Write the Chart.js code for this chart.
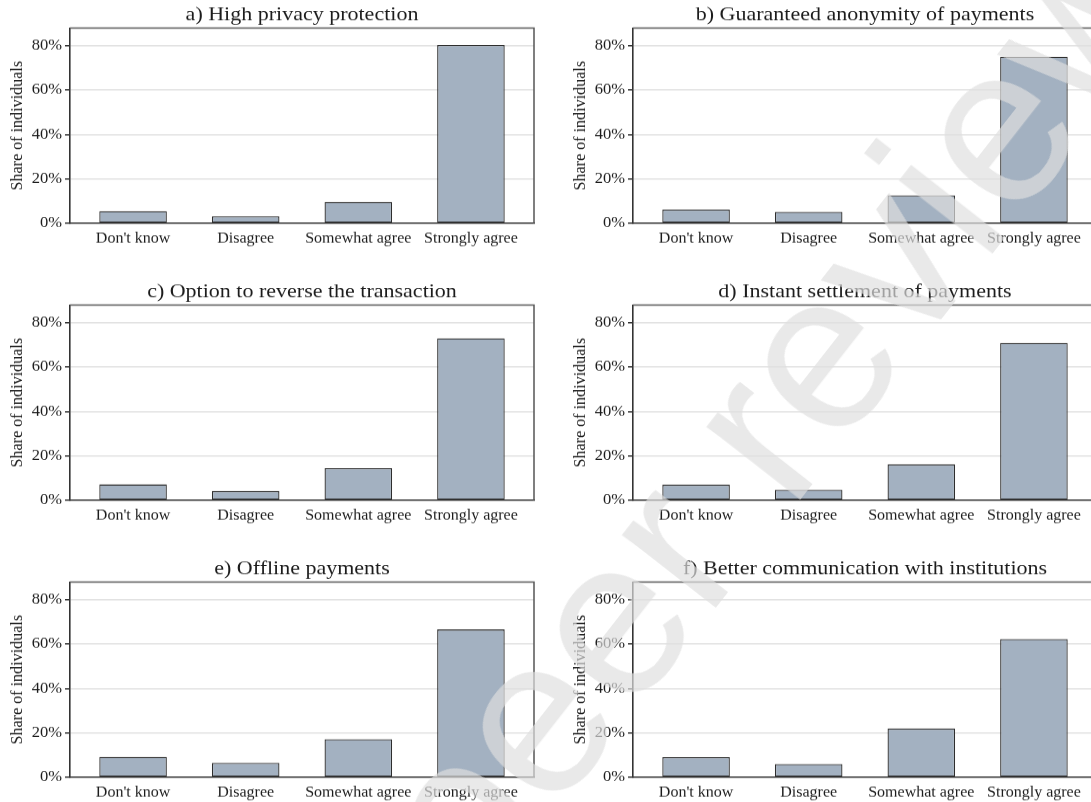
<!DOCTYPE html>
<html>
<head>
<meta charset="utf-8">
<script src="https://cdn.jsdelivr.net/npm/chart.js@4.4.1/dist/chart.umd.min.js"></script>
<style>
    html, body {
        margin: 0;
        padding: 0;
        background: #ffffff;
        width: 1091px;
        height: 802px;
        overflow: hidden;
        position: relative;
    }
    .panel {
        position: absolute;
        width: 545px;
        height: 250px;
    }
    .panel canvas {
        width: 545px !important;
        height: 250px !important;
    }
    .stamp {
        position: absolute;
        left: 772px;
        top: 410px;
        transform: translate(-50%, -50%) rotate(-52deg);
        font-family: "Liberation Sans", Arial, sans-serif;
        font-size: 225px;
        line-height: 1;
        white-space: nowrap;
        color: rgba(222, 222, 222, 0.68);
        pointer-events: none;
    }
</style>
</head>
<body>

<div class="panel" style="left:0px;top:0px"><canvas id="chartA"></canvas></div>
<div class="panel" style="left:563px;top:0px"><canvas id="chartB"></canvas></div>
<div class="panel" style="left:0px;top:277px"><canvas id="chartC"></canvas></div>
<div class="panel" style="left:563px;top:277px"><canvas id="chartD"></canvas></div>
<div class="panel" style="left:0px;top:554px"><canvas id="chartE"></canvas></div>
<div class="panel" style="left:563px;top:554px"><canvas id="chartF"></canvas></div>

<div class="stamp">peer review</div>

<script>
    /* ================= DATA ================= */

    const categories = ["Don't know", "Disagree", "Somewhat agree", "Strongly agree"];
    const yTicks = [0, 20, 40, 60, 80];
    const yMax = 88;

    const privacyShare = [5.5, 3.2, 9.6, 80.3];
    const anonymityShare = [6.2, 5.2, 12.6, 75.0];
    const reverseShare = [7.2, 4.2, 14.5, 73.0];
    const instantShare = [7.1, 4.8, 16.2, 70.9];
    const offlineShare = [9.2, 6.5, 17.2, 66.6];
    const communicationShare = [9.1, 6.0, 22.0, 62.3];

    const panelTitles = [
        "a) High privacy protection",
        "b) Guaranteed anonymity of payments",
        "c) Option to reverse the transaction",
        "d) Instant settlement of payments",
        "e) Offline payments",
        "f) Better communication with institutions",
    ];

    /* ================= STYLE ================= */

    const SERIF = '"Liberation Serif", "Times New Roman", Times, serif';
    const BAR_FILL = "#a3b1c1";
    const BAR_EDGE = "#2e2e2e";
    const AXIS_COLOR = "#333333";
    const FRAME_COLOR = "#555555";
    const GRID_COLOR = "#e2e2e2";
    const TEXT_COLOR = "#1c1c1c";

    // box around the plot area (top + right sides are not drawn by the axes)
    const frameBox = {
        id: "frameBox",
        afterDraw(chart) {
            const { ctx, chartArea: a } = chart;
            ctx.save();
            ctx.strokeStyle = FRAME_COLOR;
            ctx.lineWidth = 1.5;
            ctx.beginPath();
            ctx.moveTo(a.left, a.top);
            ctx.lineTo(a.right, a.top);
            ctx.lineTo(a.right, a.bottom);
            ctx.stroke();
            ctx.restore();
        }
    };

    function buildPanel(canvasId, title, values) {
        const points = categories.map((c, i) => ({ x: i, y: values[i] }));

        return new Chart(document.getElementById(canvasId), {
            type: "bar",
            data: {
                datasets: [{
                    data: points,
                    backgroundColor: BAR_FILL,
                    borderColor: BAR_EDGE,
                    borderWidth: 1.3,
                    borderSkipped: false,
                    categoryPercentage: 1,
                    barPercentage: 0.6,
                }]
            },
            options: {
                responsive: false,
                animation: false,
                devicePixelRatio: 1,
                layout: { padding: { left: 0, right: 11, top: 0, bottom: 0 } },
                plugins: {
                    legend: { display: false },
                    tooltip: { enabled: false },
                    title: {
                        display: true,
                        text: title,
                        fullSize: false,
                        color: TEXT_COLOR,
                        font: { family: SERIF, size: 22, weight: "normal", lineHeight: 1.2 },
                        padding: { top: 3, bottom: 1 },
                    },
                },
                scales: {
                    x: {
                        type: "linear",
                        offset: false,
                        min: -0.56,
                        max: 3.56,
                        afterBuildTicks: (scale) => {
                            scale.ticks = categories.map((c, i) => ({ value: i }));
                        },
                        afterFit: (scale) => { scale.height = 29; },
                        grid: { display: false, drawTicks: false, offset: false },
                        border: { display: true, color: AXIS_COLOR, width: 1.6 },
                        ticks: {
                            padding: 7,
                            color: TEXT_COLOR,
                            maxRotation: 0,
                            autoSkip: false,
                            font: { family: SERIF, size: 16 },
                            callback: (v) => categories[v] ?? "",
                        },
                    },
                    y: {
                        min: 0,
                        max: yMax,
                        afterBuildTicks: (scale) => {
                            scale.ticks = yTicks.map(v => ({ value: v }));
                        },
                        afterFit: (scale) => { scale.width = 70; },
                        grid: {
                            color: (ctx) => ctx.tick && ctx.tick.value === 0 ? "rgba(0,0,0,0)" : GRID_COLOR,
                            lineWidth: 1.5,
                            tickColor: AXIS_COLOR,
                            tickLength: 5,
                        },
                        border: { display: true, color: AXIS_COLOR, width: 1.6 },
                        ticks: {
                            padding: 3,
                            color: TEXT_COLOR,
                            font: { family: SERIF, size: 16.5 },
                            callback: (v) => v + "%",
                        },
                        title: {
                            display: true,
                            text: "Share of individuals",
                            color: TEXT_COLOR,
                            font: { family: SERIF, size: 17.5 },
                            padding: { top: 7, bottom: 0 },
                        },
                    },
                },
            },
            plugins: [frameBox],
        });
    }

    /* ================= INIT ================= */

    buildPanel("chartA", panelTitles[0], privacyShare);
    buildPanel("chartB", panelTitles[1], anonymityShare);
    buildPanel("chartC", panelTitles[2], reverseShare);
    buildPanel("chartD", panelTitles[3], instantShare);
    buildPanel("chartE", panelTitles[4], offlineShare);
    buildPanel("chartF", panelTitles[5], communicationShare);
</script>
</body>
</html>
